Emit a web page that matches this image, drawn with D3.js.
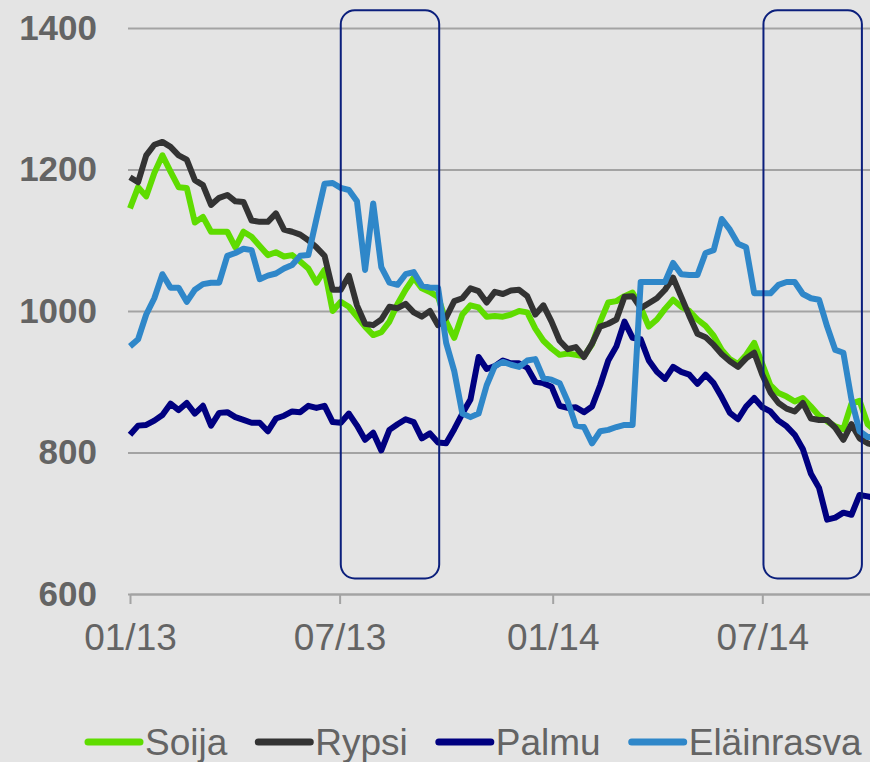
<!DOCTYPE html>
<meta charset="utf-8">
<script src="https://d3js.org/d3.v7.min.js"></script>
<style>
  body { margin: 0; background: #e4e4e4; }
  svg { display: block; font-family: "Liberation Sans", Arial, sans-serif; }
</style>
<div id="chart"></div>
<script>
  // weekly prices, first week 01/2013
  var startDate = new Date(2013, 0, 1);

  var soija = [1145,1175,1162,1195,1220,1197,1175,1174,1125,1133,
    1112,1112,1112,1090,1112,1105,1092,1079,1083,1077,
    1079,1070,1060,1040,1058,1000,1013,1006,992,978,
    966,970,985,1010,1030,1047,1032,1027,1020,985,
    962,995,1008,1005,992,993,992,995,1000,998,
    975,958,947,938,940,938,936,953,985,1012,
    1014,1021,1026,1005,978,988,1003,1016,1006,1000,
    988,979,965,945,932,925,938,955,925,895,
    884,879,872,877,865,852,844,837,833,869,
    873,840,830];

  var rypsi = [1189,1182,1220,1235,1239,1232,1220,1214,1185,1178,
    1150,1160,1164,1155,1154,1128,1126,1126,1138,1115,
    1112,1108,1100,1090,1078,1030,1030,1050,1008,982,
    980,988,1006,1004,1010,998,992,1000,980,991,
    1014,1018,1032,1028,1012,1027,1024,1029,1030,1021,
    995,1008,985,958,946,949,935,954,978,982,
    988,1020,1021,1004,1011,1018,1030,1047,1020,993,
    968,963,952,939,929,921,933,941,910,885,
    870,862,858,870,848,846,846,835,818,840,
    820,813,810];

  var palmu = [825,838,839,845,853,869,860,870,855,866,
    838,856,857,850,846,842,842,830,848,852,
    858,857,866,863,866,843,842,855,838,818,
    828,803,832,840,847,843,820,827,814,813,
    833,855,875,935,918,922,930,926,926,920,
    900,898,893,866,863,864,857,865,895,930,
    950,985,962,960,930,914,904,921,914,910,
    897,910,898,878,856,847,865,877,864,858,
    845,837,825,805,770,750,705,708,715,712,
    740,738,735];

  var elainrasva = [950,960,995,1018,1052,1033,1033,1013,1030,1038,
    1040,1040,1078,1082,1088,1086,1045,1050,1053,1060,
    1065,1078,1079,1130,1180,1181,1174,1171,1155,1058,
    1152,1062,1040,1037,1052,1055,1036,1033,1033,955,
    915,855,850,855,895,922,928,924,921,930,
    932,905,903,898,872,838,836,813,830,832,
    836,839,839,1041,1041,1041,1041,1068,1052,1051,
    1051,1082,1086,1130,1115,1095,1090,1025,1025,1025,
    1037,1041,1041,1024,1018,1016,978,945,941,875,
    830,822,822];

  var seriesNames = ["Soija", "Rypsi", "Palmu", "Eläinrasva"];
  var seriesColors = ["#5fdc00", "#333333", "#000080", "#2f87c9"];
  var yTicks = [600, 800, 1000, 1200, 1400];
  var xTicks = [new Date(2013, 0, 1), new Date(2013, 6, 1), new Date(2014, 0, 1), new Date(2014, 6, 1)];
  // highlighted periods (boxes)
  var boxStarts = [new Date(2013, 6, 2), new Date(2014, 6, 2)];
  var boxEnds = [new Date(2013, 8, 25), new Date(2014, 8, 25)];
  var boxRange = [622, 1425];

  var allSeries = [soija, rypsi, palmu, elainrasva];
  var dates = soija.map(function(d, i) { return d3.timeDay.offset(startDate, 7 * i); });

  var W = 870, H = 762;
  var svg = d3.select("#chart").append("svg")
    .attr("width", W).attr("height", H);

  var x = d3.scaleTime()
    .domain([new Date(2013, 0, 1), new Date(2014, 9, 2)])
    .range([130, 870]);
  var y = d3.scaleLinear()
    .domain([600, 1400])
    .range([594, 28]);

  // Y axis with gridlines
  var yAxis = svg.append("g")
    .attr("transform", "translate(128,0)")
    .call(d3.axisLeft(y).tickValues(yTicks).tickSize(-742).tickPadding(31)
      .tickFormat(d3.format("d")));
  yAxis.select(".domain").remove();
  yAxis.selectAll("line").attr("stroke", "#a3a3a3").attr("stroke-width", 2);
  yAxis.selectAll("text")
    .attr("fill", "#646464")
    .style("font-size", "35px")
    .style("font-weight", "bold");

  // X axis
  var xAxis = svg.append("g")
    .attr("transform", "translate(0,594)")
    .call(d3.axisBottom(x).tickValues(xTicks).tickSize(10).tickSizeOuter(0)
      .tickPadding(20).tickFormat(d3.timeFormat("%m/%y")));
  xAxis.select(".domain").attr("stroke", "#a3a3a3").attr("stroke-width", 2);
  xAxis.selectAll("line").attr("stroke", "#a3a3a3").attr("stroke-width", 2);
  xAxis.selectAll("text")
    .attr("fill", "#646464")
    .style("font-size", "37px");

  // Lines
  var line = d3.line()
    .x(function(d, i) { return x(dates[i]); })
    .y(function(d) { return y(d); });

  svg.selectAll(".series")
    .data(allSeries)
    .enter()
    .append("path")
      .attr("class", "series")
      .attr("d", line)
      .attr("fill", "none")
      .attr("stroke", function(d, i) { return seriesColors[i]; })
      .attr("stroke-width", 6)
      .attr("stroke-linejoin", "round");

  // Highlight boxes
  svg.selectAll(".box")
    .data(boxStarts)
    .enter()
    .append("rect")
      .attr("class", "box")
      .attr("x", function(d) { return x(d); })
      .attr("width", function(d, i) { return x(boxEnds[i]) - x(d); })
      .attr("y", y(boxRange[1]))
      .attr("height", y(boxRange[0]) - y(boxRange[1]))
      .attr("rx", 14)
      .attr("fill", "none")
      .attr("stroke", "#0b1f7c")
      .attr("stroke-width", 2);

  // Legend
  var legend = svg.append("g").attr("transform", "translate(0,742)");
  var lx = 85;
  seriesNames.forEach(function(name, i) {
    legend.append("line")
      .attr("x1", lx + 3).attr("x2", lx + 55)
      .attr("y1", 0).attr("y2", 0)
      .attr("stroke", seriesColors[i])
      .attr("stroke-width", 7)
      .attr("stroke-linecap", "round");
    var t = legend.append("text")
      .attr("x", lx + 60)
      .attr("y", 13)
      .attr("fill", "#646464")
      .style("font-size", "37px")
      .text(name);
    lx = lx + 60 + t.node().getComputedTextLength() + 28;
  });
</script>
